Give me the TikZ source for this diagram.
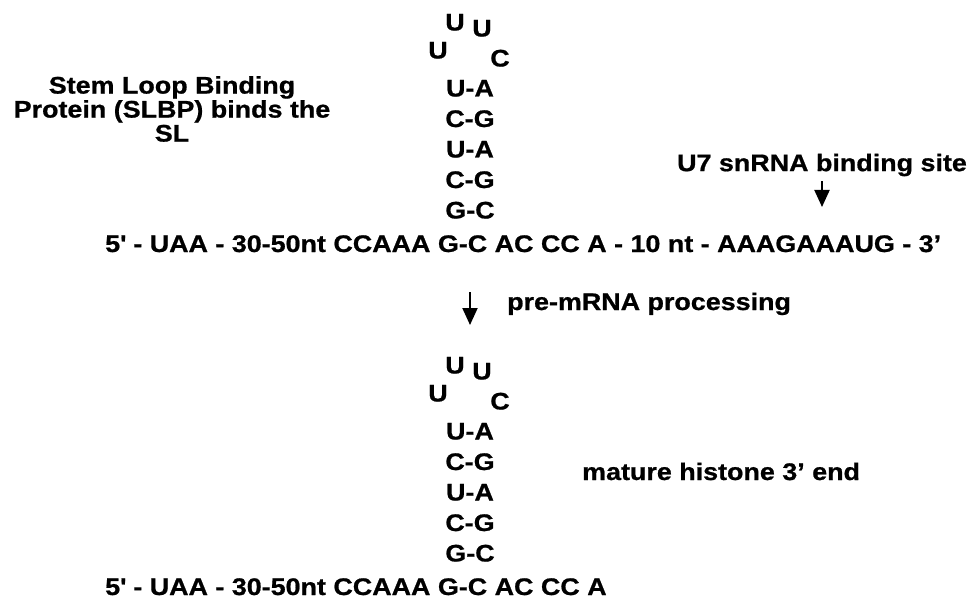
\documentclass[tikz,border=0pt]{standalone}
\usepackage{fontspec}
\setmainfont{Liberation Sans}[FakeStretch=1.12,BoldFeatures={FakeBold=0.8}]
\usetikzlibrary{positioning,arrows.meta}

\begin{document}
\begin{tikzpicture}[x=1pt,y=-1pt,
      base/.style={inner sep=0pt, font=\fontsize{24}{24}\selectfont\bfseries},
      seq/.style={base, anchor=base},
      note/.style={base, anchor=base west},
      >={Triangle[length=17pt,width=15pt]}
    ]
    \useasboundingbox (0,0) rectangle (977,604);

    % stem loop, before and after processing
    \foreach \dy/\p in {0/t,343/b} {
      \node[seq] (\p loopA) at (455,30.5+\dy) {U};
      \node[seq] (\p loopB) at (482,36.5+\dy) {U};
      \node[seq] (\p loopL) at (438,58.5+\dy) {U};
      \node[seq] (\p loopC) at (500,66.5+\dy) {C};
      \foreach \pair [count=\i] in {U-A,C-G,U-A,C-G,G-C}
        \node[seq] (\p stem\i) at (470,66+30.5*\i+\dy) {\pair};
    }

    \node[note] (pre) at (105,252) {5\textquotesingle{} - UAA - 30-50nt CCAAA G-C AC CC A - 10 nt - AAAGAAAUG - 3’};
    \node[note] (mature) at (105,595) {5\textquotesingle{} - UAA - 30-50nt CCAAA G-C AC CC A};

    \node[base,align=center] (slbp) at (172,109) {Stem Loop Binding\\Protein (SLBP) binds the\\SL};
    \node[base] (u7) at (822,165) {U7 snRNA binding site};
    \node[note] (proc) at (507,310) {pre-mRNA processing};
    \node[note] (histend) at (582,480) {mature histone 3’ end};

    \coordinate (u7tip) at (822,207);
    \coordinate (cut top) at (470,292);
    \coordinate (cut end) at (470,325);

    \draw[->,line width=2pt,shorten <=5pt] (u7) -- (u7tip);
    \draw[->,line width=2pt] (cut top) -- (cut end);
  \end{tikzpicture}
\end{document}
